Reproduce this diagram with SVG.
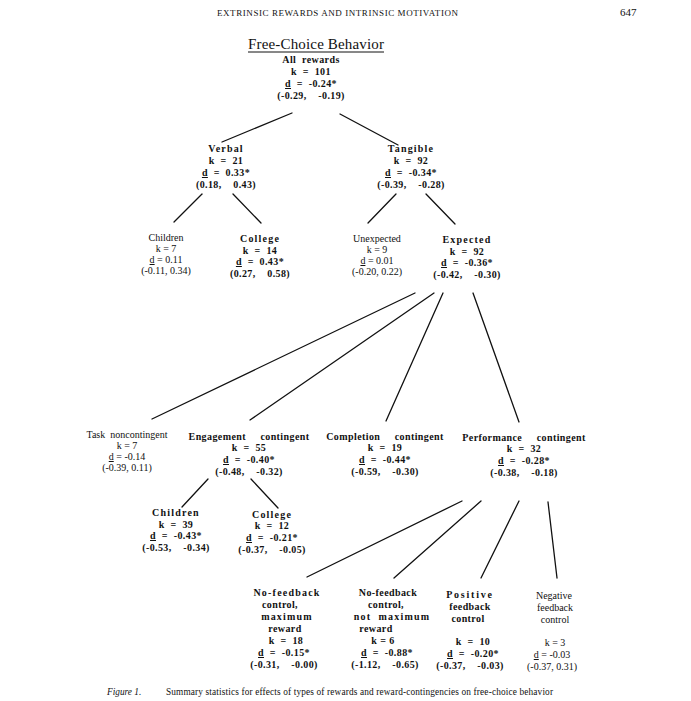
<svg xmlns="http://www.w3.org/2000/svg" width="691" height="701" viewBox="0 0 691 701" xml:space="preserve">
<style>
text { font-family: "Liberation Serif", "Times New Roman", serif; fill: #111; white-space: pre; }
.b { font-weight: bold; font-size: 10px; text-anchor: middle; letter-spacing: 0.4px; }
.r { font-size: 10px; text-anchor: middle; }
.ls { letter-spacing: 1.2px; }
.u { text-decoration: underline; }
.hdr { font-size: 9px; }
.cap { font-size: 9.3px; }
#connectors line { stroke: #111; stroke-width: 1.3; stroke-linecap: round; }
</style>
<rect width="691" height="701" fill="#ffffff"/>
<g id="header">
<text class="hdr" x="217" y="16" textLength="241">EXTRINSIC REWARDS AND INTRINSIC MOTIVATION</text>
<text x="620" y="16" style="font-size:11px">647</text>
<text x="248" y="49" style="font-size:15px" textLength="136">Free-Choice Behavior</text>
<line x1="248" y1="52" x2="384" y2="52" stroke="#111" stroke-width="1"/>
</g>
<g id="connectors">
<line x1="292" y1="113" x2="222" y2="142"/>
<line x1="340" y1="114" x2="398" y2="145"/>
<line x1="202" y1="194" x2="174" y2="222"/>
<line x1="233" y1="194" x2="261" y2="223"/>
<line x1="396" y1="194" x2="368" y2="223"/>
<line x1="426" y1="194" x2="455" y2="224"/>
<line x1="415" y1="293" x2="152" y2="419"/>
<line x1="434" y1="293" x2="250" y2="420"/>
<line x1="443" y1="293" x2="386" y2="421"/>
<line x1="473" y1="293" x2="519" y2="422"/>
<line x1="208" y1="479" x2="182" y2="507"/>
<line x1="251" y1="479" x2="278" y2="508"/>
<line x1="462" y1="501" x2="307" y2="577"/>
<line x1="481" y1="501" x2="394" y2="578"/>
<line x1="519" y1="501" x2="481" y2="578"/>
<line x1="548" y1="502" x2="557" y2="578"/>
</g>
<g id="all-rewards">
<text class="b" x="311" y="63">All  rewards</text>
<text class="b" x="311" y="75">k  =  101</text>
<text class="b" x="311" y="87"><tspan class="u">d</tspan>  =  -0.24*</text>
<text class="b" x="311" y="99">(-0.29,    -0.19)</text>
</g>
<g id="verbal">
<text class="b ls" x="226" y="152">Verbal</text>
<text class="b" x="226" y="164">k  =  21</text>
<text class="b" x="226" y="176"><tspan class="u">d</tspan>  =  0.33*</text>
<text class="b" x="226" y="188">(0.18,    0.43)</text>
</g>
<g id="tangible">
<text class="b ls" x="411" y="152">Tangible</text>
<text class="b" x="411" y="164">k  =  92</text>
<text class="b" x="411" y="176"><tspan class="u">d</tspan>  =  -0.34*</text>
<text class="b" x="411" y="188">(-0.39,    -0.28)</text>
</g>
<g id="verbal-children">
<text class="r" x="166" y="241">Children</text>
<text class="r" x="166" y="252">k = 7</text>
<text class="r" x="166" y="263"><tspan class="u">d</tspan> = 0.11</text>
<text class="r" x="166" y="274">(-0.11, 0.34)</text>
</g>
<g id="verbal-college">
<text class="b ls" x="260" y="242">College</text>
<text class="b" x="260" y="254">k  =  14</text>
<text class="b" x="260" y="265"><tspan class="u">d</tspan>  =  0.43*</text>
<text class="b" x="260" y="277">(0.27,    0.58)</text>
</g>
<g id="unexpected">
<text class="r" x="377" y="242">Unexpected</text>
<text class="r" x="377" y="253">k = 9</text>
<text class="r" x="377" y="264"><tspan class="u">d</tspan> = 0.01</text>
<text class="r" x="377" y="275">(-0.20, 0.22)</text>
</g>
<g id="expected">
<text class="b ls" x="467" y="243">Expected</text>
<text class="b" x="467" y="255">k  =  92</text>
<text class="b" x="467" y="266"><tspan class="u">d</tspan>  =  -0.36*</text>
<text class="b" x="467" y="278">(-0.42,    -0.30)</text>
</g>
<g id="task-noncontingent">
<text class="r" x="127" y="438">Task  noncontingent</text>
<text class="r" x="127" y="449">k = 7</text>
<text class="r" x="127" y="460"><tspan class="u">d</tspan> = -0.14</text>
<text class="r" x="127" y="471">(-0.39, 0.11)</text>
</g>
<g id="engagement-contingent">
<text class="b" x="249" y="440">Engagement     contingent</text>
<text class="b" x="249" y="451">k  =  55</text>
<text class="b" x="249" y="463"><tspan class="u">d</tspan>  =  -0.40*</text>
<text class="b" x="249" y="475">(-0.48,    -0.32)</text>
</g>
<g id="completion-contingent">
<text class="b" x="385" y="440">Completion     contingent</text>
<text class="b" x="385" y="451">k  =  19</text>
<text class="b" x="385" y="463"><tspan class="u">d</tspan>  =  -0.44*</text>
<text class="b" x="385" y="475">(-0.59,    -0.30)</text>
</g>
<g id="performance-contingent">
<text class="b" x="524" y="441">Performance     contingent</text>
<text class="b" x="524" y="452">k  =  32</text>
<text class="b" x="524" y="464"><tspan class="u">d</tspan>  =  -0.28*</text>
<text class="b" x="524" y="476">(-0.38,    -0.18)</text>
</g>
<g id="engagement-children">
<text class="b ls" x="176" y="516">Children</text>
<text class="b" x="176" y="528">k  =  39</text>
<text class="b" x="176" y="539"><tspan class="u">d</tspan>  =  -0.43*</text>
<text class="b" x="176" y="551">(-0.53,    -0.34)</text>
</g>
<g id="engagement-college">
<text class="b ls" x="272" y="518">College</text>
<text class="b" x="272" y="529">k  =  12</text>
<text class="b" x="272" y="541"><tspan class="u">d</tspan>  =  -0.21*</text>
<text class="b" x="272" y="553">(-0.37,    -0.05)</text>
</g>
<g id="nofeedback-maximum">
<text class="b ls" x="287" y="596">No-feedback</text>
<text class="b" x="280" y="608">control,</text>
<text class="b ls" x="287" y="620">maximum</text>
<text class="b" x="285" y="632">reward</text>
<text class="b" x="286" y="644">k  =  18</text>
<text class="b" x="284" y="656"><tspan class="u">d</tspan>  =  -0.15*</text>
<text class="b" x="284" y="668">(-0.31,    -0.00)</text>
</g>
<g id="nofeedback-not-maximum">
<text class="b" x="388" y="596">No-feedback</text>
<text class="b" x="386" y="608">control,</text>
<text class="b ls" x="392" y="620">not  maximum</text>
<text class="b" x="376" y="632">reward</text>
<text class="b" x="383" y="644">k = 6</text>
<text class="b" x="387" y="656"><tspan class="u">d</tspan>  =  -0.88*</text>
<text class="b" x="385" y="668">(-1.12,    -0.65)</text>
</g>
<g id="positive-feedback">
<text class="b" x="470" y="598" style="letter-spacing:1.8px">Positive</text>
<text class="b" x="470" y="610">feedback</text>
<text class="b" x="468" y="622">control</text>
<text class="b" x="473" y="645">k  =  10</text>
<text class="b" x="473" y="657"><tspan class="u">d</tspan>  =  -0.20*</text>
<text class="b" x="470" y="669">(-0.37,    -0.03)</text>
</g>
<g id="negative-feedback">
<text class="r" x="554" y="599">Negative</text>
<text class="r" x="555" y="611">feedback</text>
<text class="r" x="555" y="623">control</text>
<text class="r" x="555" y="646">k = 3</text>
<text class="r" x="552" y="658"><tspan class="u">d</tspan> = -0.03</text>
<text class="r" x="552" y="670">(-0.37, 0.31)</text>
</g>
<g id="caption">
<text class="cap" x="107" y="695" style="font-style:italic">Figure 1.</text>
<text class="cap" x="166" y="695" textLength="387">Summary statistics for effects of types of rewards and reward-contingencies on free-choice behavior</text>
</g>
</svg>
